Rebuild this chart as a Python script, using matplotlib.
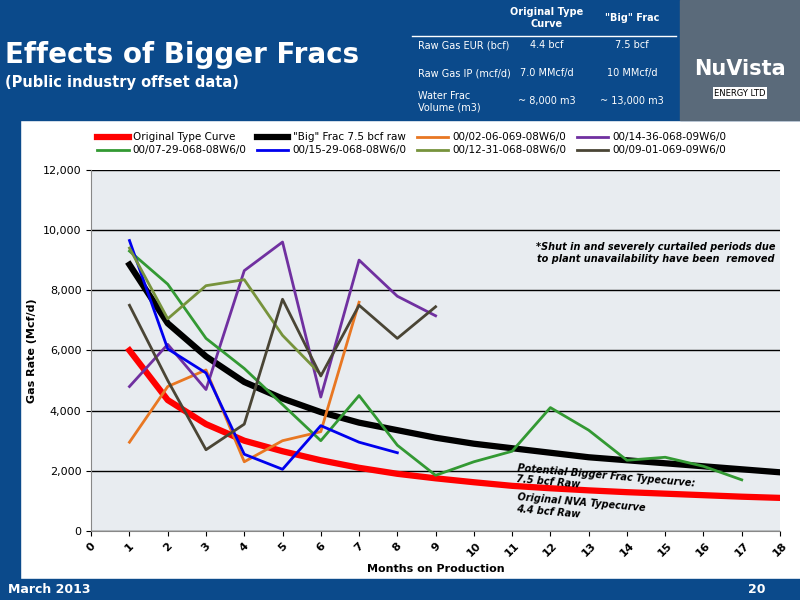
import numpy as np
import matplotlib.pyplot as plt
from matplotlib.patches import Rectangle

months = np.arange(1, 19)
original = [6000, 4350, 3550, 3000, 2650, 2350, 2100, 1900, 1750, 1620, 1500, 1420, 1350, 1290, 1240, 1190, 1140, 1100]
big_frac = [8850, 6900, 5800, 4950, 4400, 3950, 3600, 3350, 3100, 2900, 2750, 2600, 2450, 2350, 2250, 2150, 2050, 1950]
w_02_06 = [2950, 4800, 5350, 2300, 3000, 3300, 7600]
w_14_36 = [4800, 6200, 4700, 8650, 9600, 4450, 9000, 7800, 7150]
w_07_29 = [9300, 8200, 6400, 5400, 4200, 3000, 4500, 2850, 1850, 2300, 2650, 4100, 3350, 2350, 2450, 2150, 1700]
w_15_29 = [9650, 6050, 5250, 2550, 2050, 3500, 2950, 2600]
w_12_31 = [9400, 7050, 8150, 8350, 6500, 5200]
w_09_01 = [7500, 5000, 2700, 3550, 7700, 5150, 7500, 6400, 7450]

navy = '#0b4a8b'
fig = plt.figure(figsize=(8, 6), dpi=100)
fig.patch.set_facecolor('white')

# header / footer bands
fig.add_artist(Rectangle((0, 0.8), 1, 0.2, transform=fig.transFigure, color=navy, zorder=0))
fig.add_artist(Rectangle((0, 0), 1, 0.035, transform=fig.transFigure, color=navy, zorder=0))
fig.add_artist(Rectangle((0, 0), 0.025, 1, transform=fig.transFigure, color=navy, zorder=0))
fig.add_artist(Rectangle((0.85, 0.8), 0.15, 0.2, transform=fig.transFigure, color='#5a6a7a', zorder=1))
fig.text(0.925, 0.885, 'NuVista', color='white', fontsize=15, ha='center', va='center', fontweight='bold')
fig.text(0.925, 0.845, 'ENERGY LTD', color='black', fontsize=6, ha='center', va='center',
         bbox=dict(facecolor='white', edgecolor='none', pad=1))

fig.text(0.006, 0.908, 'Effects of Bigger Fracs', color='white', fontsize=20, fontweight='bold', va='center')
fig.text(0.006, 0.863, '(Public industry offset data)', color='white', fontsize=10.5, fontweight='bold', va='center')
fig.text(0.01, 0.0175, 'March 2013', color='white', fontsize=9, fontweight='bold', va='center')
fig.text(0.935, 0.0175, '20', color='white', fontsize=9, fontweight='bold', va='center')

# header table
rows = ['Raw Gas EUR (bcf)', 'Raw Gas IP (mcf/d)', 'Water Frac\nVolume (m3)']
col1 = ['4.4 bcf', '7.0 MMcf/d', '~ 8,000 m3']
col2 = ['7.5 bcf', '10 MMcf/d', '~ 13,000 m3']
fig.text(0.683, 0.97, 'Original Type\nCurve', color='white', fontsize=7, ha='center', va='center', fontweight='bold')
fig.text(0.79, 0.97, '"Big" Frac', color='white', fontsize=7, ha='center', va='center', fontweight='bold')
fig.add_artist(plt.Line2D([0.515, 0.845], [0.94, 0.94], transform=fig.transFigure, color='white', lw=1))
for i, (r, a, b) in enumerate(zip(rows, col1, col2)):
    yy = 0.925 - i * 0.047
    fig.text(0.522, yy, r, color='white', fontsize=7, va='center')
    fig.text(0.683, yy, a, color='white', fontsize=7, ha='center', va='center')
    fig.text(0.79, yy, b, color='white', fontsize=7, ha='center', va='center')

ax = fig.add_axes([0.114, 0.115, 0.861, 0.602])
ax.set_facecolor('#e8ecf0')
ax.plot(months, original, color='red', lw=4.5, label='Original Type Curve')
ax.plot(months, big_frac, color='black', lw=4.5, label='"Big" Frac 7.5 bcf raw')
ax.plot(months[:len(w_02_06)], w_02_06, color='#e87722', lw=2, label='00/02-06-069-08W6/0')
ax.plot(months[:len(w_14_36)], w_14_36, color='#7030a0', lw=2, label='00/14-36-068-09W6/0')
ax.plot(months[:len(w_07_29)], w_07_29, color='#339933', lw=2, label='00/07-29-068-08W6/0')
ax.plot(months[:len(w_15_29)], w_15_29, color='#0000ee', lw=2, label='00/15-29-068-08W6/0')
ax.plot(months[:len(w_12_31)], w_12_31, color='#77933c', lw=2, label='00/12-31-068-08W6/0')
ax.plot(months[:len(w_09_01)], w_09_01, color='#4a4535', lw=2, label='00/09-01-069-09W6/0')

ax.set_xlim(0, 18)
ax.set_ylim(0, 12000)
ax.set_xticks(range(0, 19))
ax.set_xticklabels([str(i) for i in range(19)], rotation=45, fontsize=8, fontweight='bold')
ax.set_yticks(range(0, 12001, 2000))
ax.set_yticklabels([f'{v:,}' for v in range(0, 12001, 2000)], fontsize=8)
ax.yaxis.grid(True, color='black', lw=1)
ax.set_axisbelow(True)
for s in ['top', 'right']:
    ax.spines[s].set_visible(False)
ax.spines['left'].set_color('#888888')
ax.spines['bottom'].set_color('#888888')
ax.set_xlabel('Months on Production', fontsize=8, fontweight='bold')
ax.set_ylabel('Gas Rate (Mcf/d)', fontsize=8, fontweight='bold')

ax.text(0.82, 0.77, '*Shut in and severely curtailed periods due\nto plant unavailability have been  removed',
        transform=ax.transAxes, fontsize=7, style='italic', fontweight='bold', ha='center', va='center')
ax.text(11.1, 1650, 'Potential Bigger Frac Typecurve:\n7.5 bcf Raw', fontsize=7, style='italic',
        fontweight='bold', rotation=-5, ha='left', va='center')
ax.text(11.1, 750, 'Original NVA Typecurve\n4.4 bcf Raw', fontsize=7, style='italic',
        fontweight='bold', rotation=-5, ha='left', va='center')

h, l = ax.get_legend_handles_labels()
order = [0, 4, 1, 5, 2, 6, 3, 7]
fig.legend([h[i] for i in order], [l[i] for i in order], ncol=4, loc='upper left',
           bbox_to_anchor=(0.11, 0.795), frameon=False, fontsize=7.5, handlelength=3,
           handletextpad=0.4, columnspacing=1.0, labelspacing=0.3)

fig.savefig('out.png', dpi=100)
